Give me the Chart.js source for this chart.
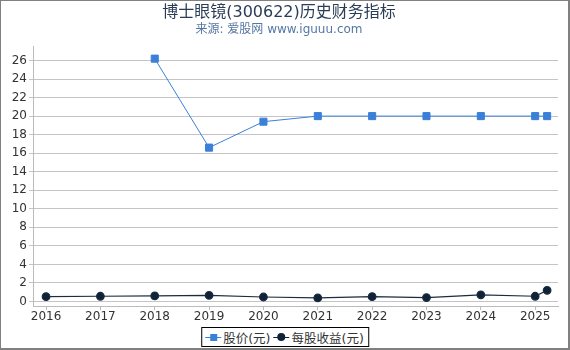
<!DOCTYPE html>
<html>
<head>
<meta charset="utf-8">
<script src="https://cdn.jsdelivr.net/npm/chart.js@4/dist/chart.umd.min.js"></script>
<style>
  html,body{margin:0;padding:0;background:#fff;}
  #wrap{position:relative;width:570px;height:350px;overflow:hidden;}
  #frame{position:absolute;left:0;top:0;width:570px;height:350px;box-sizing:border-box;
    border-left:1px solid #808080;border-top:1px solid #808080;border-right:2px solid #808080;border-bottom:2px solid #808080;pointer-events:none;}
  #legend{position:absolute;left:285px;top:327px;transform:translateX(-50%);height:20px;box-sizing:border-box;border:1px solid #000;background:#fff;
    padding-right:4px;font-family:"DejaVu Sans","Noto Sans CJK SC",sans-serif;font-size:12.5px;color:#333;display:flex;align-items:center;white-space:nowrap;}
  .item{display:flex;align-items:center;margin-left:3px;}
  .sym{position:relative;width:16px;height:10px;margin-right:2px;}
  .sym .ln{position:absolute;left:0;top:4.5px;width:16px;height:1px;}
  .sym .mk{position:absolute;}
</style>
</head>
<body>
<div id="wrap">
  <canvas id="c" width="570" height="350"></canvas>
  <div id="legend">
    <div class="item"><div class="sym"><div class="ln" style="background:#3a80d8"></div><div class="mk" style="left:4.5px;top:1.5px;width:7px;height:7px;background:#3a80d8"></div></div><span>股价(元)</span></div>
    <div class="item"><div class="sym"><div class="ln" style="background:#0f2238"></div><div class="mk" style="left:4px;top:1px;width:8px;height:8px;border-radius:50%;background:#0f2238"></div></div><span>每股收益(元)</span></div>
  </div>
  <div id="frame"></div>
</div>
<script>
const years = [2016, 2017, 2018, 2019, 2020, 2021, 2022, 2023, 2024, 2025, 2025.22];
const priceValues = [null, null, 26.2, 16.6, 19.4, 20.0, 20.0, 20.0, 20.0, 20.0, 20.0];
const epsValues = [0.52, 0.56, 0.60, 0.66, 0.48, 0.38, 0.52, 0.42, 0.72, 0.56, 1.20];
const xTickYears = [2016, 2017, 2018, 2019, 2020, 2021, 2022, 2023, 2024, 2025];
const yTickValues = [0, 2, 4, 6, 8, 10, 12, 14, 16, 18, 20, 22, 24, 26];
const seriesNames = ['股价(元)', '每股收益(元)'];

const toPts = arr => years.map((x, i) => ({x: x, y: arr[i]})).filter(p => p.y !== null);
const fontFam = '"DejaVu Sans","Noto Sans CJK SC",sans-serif';

new Chart(document.getElementById('c'), {
  type: 'line',
  data: {
    datasets: [
      {label: seriesNames[0], data: toPts(priceValues), borderColor: '#3a80d8', backgroundColor: '#3a80d8',
       borderWidth: 1, pointStyle: 'rect', pointRadius: 5, pointHoverRadius: 5, tension: 0},
      {label: seriesNames[1], data: toPts(epsValues), borderColor: '#1c2c40', backgroundColor: '#0f2238',
       borderWidth: 1.2, pointStyle: 'circle', pointRadius: 3.8, pointHoverRadius: 3.8, tension: 0}
    ]
  },
  options: {
    responsive: false,
    animation: false,
    events: [],
    layout: {padding: {left: 0, right: 12, top: 0, bottom: 24}},
    plugins: {
      legend: {display: false},
      tooltip: {enabled: false},
      title: {display: true, text: '博士眼镜(300622)历史财务指标', color: '#2a3d57',
        font: {family: fontFam, size: 16, weight: 'normal'}, padding: {top: 3, bottom: 0}},
      subtitle: {display: true, text: '来源: 爱股网 www.iguuu.com', color: '#5577a3',
        font: {family: fontFam, size: 12, weight: 'normal'}, padding: {top: 0, bottom: 10}}
    },
    scales: {
      x: {
        type: 'linear', min: 2015.76, max: 2025.42,
        afterBuildTicks: s => { s.ticks = xTickYears.map(v => ({value: v})); },
        afterFit: s => { s.height = 20; },
        grid: {drawOnChartArea: false, drawTicks: true, tickLength: 4, color: '#bbbbbb'},
        border: {color: '#bbbbbb'},
        ticks: {color: '#333', padding: 0, maxRotation: 0, font: {family: fontFam, size: 12}, callback: v => String(v)}
      },
      y: {
        type: 'linear', min: -0.49, max: 27.5,
        afterBuildTicks: s => { s.ticks = yTickValues.map(v => ({value: v})); },
        afterFit: s => { s.width = 33; },
        grid: {color: '#c4c4c4', tickLength: 4, drawTicks: true},
        border: {color: '#bbbbbb'},
        ticks: {color: '#333', padding: 2, font: {family: fontFam, size: 12}, callback: v => String(v)}
      }
    }
  }
});
</script>
</body>
</html>
